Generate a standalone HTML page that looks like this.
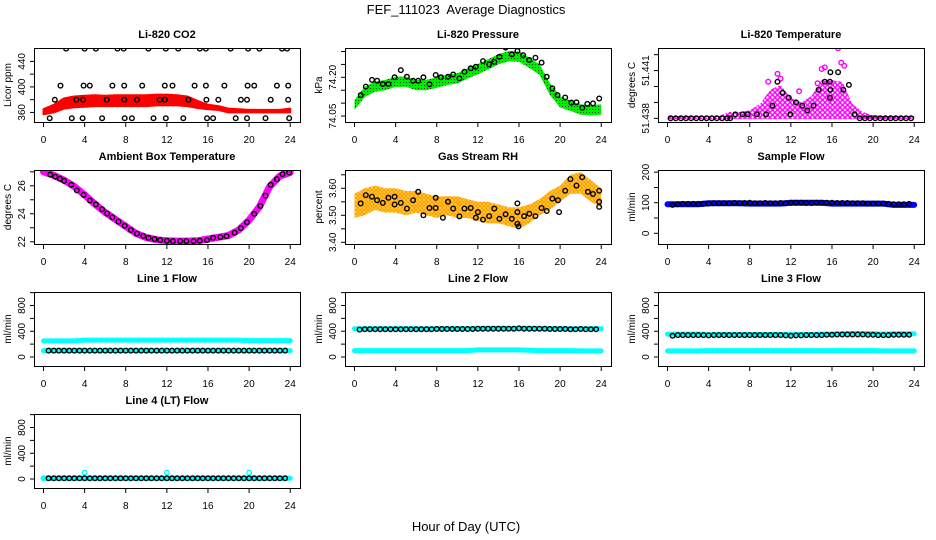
<!DOCTYPE html>
<html><head><meta charset="utf-8"><style>
html,body{margin:0;padding:0;background:#fff;}
svg{display:block;font-family:"Liberation Sans",Arial,sans-serif;}
</style></head><body>
<svg id="chart" width="936" height="540" viewBox="0 0 936 540" xmlns="http://www.w3.org/2000/svg">
<defs>
<pattern id="patGreen" width="3" height="3" patternUnits="userSpaceOnUse"><rect width="3" height="3" fill="#00ee00"/><rect x="1" y="1" width="1" height="1" fill="#004400"/></pattern>
<pattern id="patMag" width="5" height="5" patternUnits="userSpaceOnUse"><rect width="5" height="5" fill="#ffffff"/><circle cx="2.5" cy="2.5" r="1.9" fill="none" stroke="#ff00ff" stroke-width="1.4"/></pattern>
<pattern id="patOrange" width="4" height="4" patternUnits="userSpaceOnUse"><rect width="4" height="4" fill="#ffe040"/><circle cx="2" cy="2" r="1.4" fill="none" stroke="#ff9000" stroke-width="1"/></pattern>
</defs>
<text x="466" y="14" font-size="13" text-anchor="middle">FEF_111023&#160; Average Diagnostics</text>
<text x="466" y="531" font-size="13" text-anchor="middle">Hour of Day (UTC)</text>
</svg>
<script>
// ---------- data ----------
const hours25 = [0,1,2,3,4,5,6,7,8,9,10,11,12,13,14,15,16,17,18,19,20,21,22,23,24];
const halfHours = [0.5,1,1.5,2,2.5,3,3.5,4,4.5,5,5.5,6,6.5,7,7.5,8,8.5,9,9.5,10,10.5,11,11.5,12,12.5,13,13.5,14,14.5,15,15.5,16,16.5,17,17.5,18,18.5,19,19.5,20,20.5,21,21.5,22,22.5,23,23.5];

// CO2
const co2Upper = [365,372,382,385,386,387,386,387,387,387,387,388,388,387,385,378,372,370,366,365,364,364,364,364,366];
const co2Lower = [357,360,366,368,369,370,370,370,370,370,370,371,371,371,370,367,365,364,360,360,360,360,360,360,360];
const co2Hours = [2.2,4.0,5.1,7.2,7.8,10.2,11.9,13.1,15.2,15.8,18.2,19.9,21.0,23.2,23.7,
 1.65,3.9,4.5,6.7,7.85,9.6,11.8,12.55,14.7,15.8,17.6,19.85,20.5,22.7,23.8,
 1.1,3.2,3.85,6.15,7.85,9.1,11.3,11.8,14.1,15.85,17.0,19.2,19.8,22.1,23.8,
 0.6,2.75,3.8,5.7,7.9,8.6,10.7,11.9,13.6,15.9,16.5,18.7,19.8,21.6,23.9];
const co2Values = [460,460,460,460,460,460,460,460,460,460,460,460,460,460,460,
 402,402,402,402,402,402,402,402,402,402,402,402,402,402,402,
 380,380,380,380,380,380,380,380,380,380,380,380,380,380,380,
 351,351,351,351,351,351,351,351,351,351,351,351,351,351,351];

// Pressure
const presUpper = [74.112,74.164,74.184,74.19,74.203,74.203,74.19,74.19,74.2,74.21,74.216,74.235,74.252,74.27,74.29,74.302,74.3,74.276,74.25,74.178,74.127,74.11,74.095,74.093,74.095];
const presLower = [74.074,74.124,74.144,74.15,74.163,74.163,74.15,74.15,74.16,74.17,74.176,74.195,74.212,74.23,74.25,74.262,74.26,74.236,74.21,74.132,74.083,74.07,74.055,74.053,74.055];
const presHours = [0.6,1.1,1.7,2.2,2.75,3.3,3.9,4.5,5.1,5.7,6.2,6.7,7.3,7.9,8.4,9.1,9.6,10.2,10.7,11.3,11.8,12.5,13.1,13.6,14.1,14.7,15.3,15.85,16.4,17.0,17.6,18.2,18.7,19.25,19.75,20.5,21.1,21.6,22.15,22.65,23.2,23.8];
const presValues = [74.131,74.164,74.19,74.187,74.174,74.174,74.2,74.228,74.202,74.187,74.187,74.2,74.173,74.209,74.2,74.202,74.211,74.196,74.222,74.235,74.241,74.263,74.25,74.26,74.28,74.315,74.289,74.302,74.286,74.267,74.276,74.257,74.202,74.157,74.131,74.122,74.102,74.103,74.082,74.097,74.099,74.118];

// Li-820 temperature
const tempUpper = [51.43815,51.43815,51.43815,51.43815,51.43815,51.43815,51.4384,51.4384,51.4385,51.4389,51.4398,51.4401,51.4393,51.4390,51.4394,51.4404,51.4404,51.4403,51.4389,51.4384,51.4382,51.43815,51.43815,51.43815,51.43815];
const tempLower = [51.43795,51.43795,51.43795,51.43795,51.43795,51.43795,51.43795,51.43795,51.43795,51.43795,51.43795,51.43795,51.43795,51.43795,51.43795,51.43795,51.43795,51.43795,51.43795,51.43795,51.43795,51.43795,51.43795,51.43795,51.43795];
const tempOutHours = [15.3,16.6,17.2,15.0,10.7,9.8,11.0,12.8,14.6,16.9];
const tempOutValues = [51.4412,51.4424,51.4413,51.4411,51.4408,51.4403,51.4405,51.4397,51.4402,51.4415];
const tempHours = [0.3,0.8,1.3,1.8,2.3,2.8,3.3,3.8,4.3,4.8,5.3,5.8,6.1,6.6,7.3,7.8,8.7,9.6,10.2,10.7,11.2,11.8,11.95,12.5,13.1,13.6,14.2,14.7,15.3,15.8,15.85,15.85,15.8,16.6,17.1,17.65,18.2,18.7,19.2,19.7,20.2,20.7,21.2,21.7,22.2,22.7,23.2,23.7];
const tempValues = [51.438,51.438,51.438,51.438,51.438,51.438,51.438,51.438,51.438,51.438,51.438,51.438,51.438,51.43825,51.43825,51.43825,51.43825,51.43825,51.4388,51.4403,51.4396,51.4393,51.43825,51.439,51.4388,51.4385,51.4388,51.4398,51.4403,51.4403,51.4409,51.4398,51.4393,51.4409,51.4398,51.4401,51.43825,51.438,51.438,51.438,51.438,51.438,51.438,51.438,51.438,51.438,51.438,51.438];

// Ambient box temperature
const ambBand = [27.0,26.75,26.4,25.95,25.35,24.7,24.1,23.6,23.1,22.6,22.3,22.15,22.07,22.05,22.05,22.07,22.2,22.32,22.45,22.85,23.55,24.5,25.95,26.7,26.95];
const ambHours = [0.65,1.13,1.6,2.0,2.7,3.24,3.9,4.5,5.1,5.7,6.2,6.7,7.3,7.9,8.5,9.1,9.7,10.2,10.8,11.35,12.0,12.6,13.3,13.9,14.6,15.2,15.9,16.5,17.2,17.8,18.6,19.2,19.8,20.5,21.1,21.6,22.1,22.7,23.25,23.9];
const ambValues = [26.8,26.65,26.5,26.35,26.07,25.67,25.35,24.95,24.67,24.33,24.02,23.74,23.44,23.14,22.84,22.58,22.42,22.28,22.19,22.12,22.07,22.05,22.05,22.05,22.05,22.07,22.12,22.28,22.33,22.4,22.65,22.98,23.4,24.0,24.56,25.3,26.07,26.47,26.84,26.95];

// Gas stream RH
const rhUpper = [3.58,3.60,3.61,3.60,3.60,3.59,3.59,3.58,3.57,3.57,3.57,3.56,3.55,3.55,3.54,3.53,3.53,3.54,3.56,3.59,3.61,3.65,3.66,3.63,3.60];
const rhLower = [3.49,3.50,3.52,3.51,3.51,3.50,3.51,3.50,3.49,3.50,3.49,3.49,3.48,3.47,3.47,3.46,3.45,3.47,3.50,3.52,3.55,3.58,3.58,3.55,3.53];
const rhHours = [0.6,1.1,1.7,2.2,2.75,3.3,3.9,3.9,4.5,5.1,5.7,6.2,6.7,7.3,7.9,7.9,8.6,9.1,9.6,10.2,10.7,11.3,11.8,12.0,12.5,13.1,13.6,14.1,14.7,15.3,15.85,15.85,15.85,15.95,16.5,17.0,17.6,18.2,18.7,19.25,19.8,19.9,20.5,21.0,21.6,22.15,22.7,23.2,23.8,23.8,23.8];
const rhValues = [3.544,3.575,3.569,3.556,3.546,3.565,3.569,3.54,3.546,3.525,3.556,3.587,3.50,3.527,3.527,3.565,3.491,3.55,3.525,3.496,3.525,3.527,3.491,3.512,3.484,3.497,3.525,3.487,3.504,3.487,3.469,3.512,3.544,3.459,3.497,3.506,3.497,3.527,3.516,3.562,3.556,3.512,3.591,3.634,3.61,3.641,3.587,3.579,3.591,3.55,3.531];

// Sample flow
const sampleBand = [95,95,95,95,98,98,98,98,97,97,97,97,100,100,100,100,97,97,97,97,97,97,93,93,93];
const sampleBlack = [93,95,96,96,96,96,96,97,98,98,98,98,99,98,99,100,98,98,99,98,98,99,98,100,100,100,99,99,100,100,100,100,99,99,99,98,98,98,97,97,97,97,96,95,95,95,96];

// Line flows
const line1Cyan = [250,250,250,250,262,262,262,262,262,262,262,262,262,262,262,262,262,262,262,262,255,255,255,255,255];
const line1CyanLow = [100,100,100,100,100,100,100,100,100,100,100,100,100,100,100,100,100,100,100,100,100,100,100,100,100];
const line1Black = [100,100,100,100,100,100,100,100,100,100,100,100,100,100,100,100,100,100,100,100,100,100,100,100,100,100,100,100,100,100,100,100,100,100,100,100,100,100,100,100,100,100,100,100,100,100,100];
const line2Cyan = [440,440,440,440,440,440,440,440,440,440,440,440,440,445,445,445,445,445,440,440,440,440,440,440,440];
const line2CyanLow = [100,100,100,100,100,100,100,100,100,100,100,100,110,110,110,110,110,105,100,100,100,100,95,95,95];
const line2Black = [425,432,432,432,432,432,432,430,432,432,432,432,432,432,432,435,435,435,435,435,435,435,435,440,440,440,440,440,440,440,440,445,440,440,440,440,440,435,435,435,435,430,430,435,430,430,430];
const line3Cyan = [355,355,355,355,350,350,350,350,350,350,350,350,350,350,350,355,355,360,365,365,360,355,360,360,360];
const line3CyanLow = [95,95,95,95,100,100,100,100,100,100,100,100,100,100,100,100,100,100,100,100,100,95,95,95,95];
const line3Black = [330,340,340,340,340,340,340,335,340,340,340,340,340,340,340,340,340,340,340,340,340,340,335,330,335,335,340,340,340,340,345,345,350,350,350,350,350,350,345,345,340,340,340,345,345,345,345];
const line4Cyan = [10,10,10,10,10,10,10,10,10,10,10,10,10,10,10,10,10,10,10,10,10,10,10,10,10];
const line4SpikeHours = [4,12,20,0];
const line4SpikeValues = [100,100,100,10];
const line4Black = [10,10,10,10,10,10,10,10,10,10,10,10,10,10,10,10,10,10,10,10,10,10,10,10,10,10,10,10,10,10,10,10,10,10,10,10,10,10,10,10,10,10,10,10,10,10,10];

const xTicks = [0,4,8,12,16,20,24];

// ---------- drawing ----------
const NS = "http://www.w3.org/2000/svg";
const svg = document.getElementById("chart");
const COLS = [34,345,658], ROWS = [48,170,292,414], PW = 266, PH = 74;
let clipId = 0;

function mk(tag, attrs, parent){
  const el = document.createElementNS(NS, tag);
  for (const k in attrs) el.setAttribute(k, attrs[k]);
  parent.appendChild(el);
  return el;
}

function panel(name, col, row, title, ylab, ymin, ymax, ticks, labels, digits){
  const L = COLS[col], T = ROWS[row];
  const g = mk("g", {}, svg);
  
  
  const x = h => L + 9.5 + h * 10.28;
  const y = v => T + PH - (v - ymin) / (ymax - ymin) * PH;
  const cid = "clip" + (clipId++);
  const cp = mk("clipPath", {id: cid}, g);
  mk("rect", {x: L, y: T, width: PW, height: PH}, cp);
  const data = mk("g", {"clip-path": "url(#" + cid + ")"}, g);
  
  
  const box = mk("rect", {x: L+0.5, y: T+0.5, width: PW, height: PH, fill: "none", stroke: "#000", "stroke-width": 1}, g);
  
  
  const tt = mk("text", {x: L + PW/2, y: T - 10, "font-size": 11, "font-weight": "bold", "text-anchor": "middle"}, g);
  tt.textContent = title;
  
  
  xTicks.forEach(h => {
    const tk = mk("line", {x1: x(h), x2: x(h), y1: T+PH+0.5, y2: T+PH+5, stroke: "#000"}, g);
    
    
    const lb = mk("text", {x: x(h), y: T+PH+21, "font-size": 10, "text-anchor": "middle"}, g);
    lb.textContent = h;
    
    
  });
  ticks.forEach(v => {
    const tk = mk("line", {x1: L-4, x2: L+0.5, y1: y(v), y2: y(v), stroke: "#000"}, g);
    
    
  });
  labels.forEach(v => {
    const lb = mk("text", {x: 0, y: 0, "font-size": 10, "text-anchor": "middle", transform: "translate(" + (L-9) + "," + y(v).toFixed(1) + ") rotate(-90)"}, g);
    lb.textContent = v.toFixed(digits);
    
    
  });
  const yl = mk("text", {x: 0, y: 0, "font-size": 10, "text-anchor": "middle", transform: "translate(" + (L-23) + "," + (T+PH/2) + ") rotate(-90)"}, g);
  yl.textContent = ylab;
  
  
  return {x, y, data};
}

function band(p, hs, up, lo, fill, name){
  const pts = hs.map((h,i) => p.x(h).toFixed(1) + "," + p.y(up[i]).toFixed(1))
    .concat(hs.slice().reverse().map((h,j) => { const i = hs.length-1-j; return p.x(h).toFixed(1) + "," + p.y(lo[i]).toFixed(1); }));
  const el = mk("polygon", {points: pts.join(" "), fill: fill, stroke: fill.indexOf("url")===0 ? "none" : fill, "stroke-width": 2, "stroke-linejoin": "round"}, p.data);
  
  
}

function line(p, hs, vs, color, width, name){
  const pts = hs.map((h,i) => p.x(h).toFixed(1) + "," + p.y(vs[i]).toFixed(1));
  const el = mk("polyline", {points: pts.join(" "), fill: "none", stroke: color, "stroke-width": width, "stroke-linecap": "round", "stroke-linejoin": "round"}, p.data);
  
  
}

function circles(p, hs, vs, color, name){
  hs.forEach((h,i) => {
    const c = mk("circle", {cx: p.x(h).toFixed(1), cy: p.y(vs[i]).toFixed(1), r: 2.3, fill: "none", stroke: color, "stroke-width": 1.4}, p.data);
    
    
  });
}

let p = panel("co2", 0, 0, "Li-820 CO2", "Licor ppm", 345, 461, [360,380,400,420,440], [360,400,440], 0);
band(p, hours25, co2Upper, co2Lower, "#ff0000", "co2-raw-band");
circles(p, co2Hours, co2Values, "#000", "co2-average-point");

p = panel("pressure", 1, 0, "Li-820 Pressure", "kPa", 74.027, 74.3136, [74.05,74.10,74.15,74.20,74.25,74.30], [74.05,74.20], 2);
band(p, hours25, presUpper, presLower, "url(#patGreen)", "pressure-raw-band");
circles(p, presHours, presValues, "#000", "pressure-average-point");

p = panel("li820-temp", 2, 0, "Li-820 Temperature", "degrees C", 51.43777, 51.44242, [51.438,51.439,51.440,51.441,51.442], [51.438,51.441], 3);
band(p, hours25, tempUpper, tempLower, "url(#patMag)", "temp-raw-band");
circles(p, tempOutHours, tempOutValues, "#ff00ff", "temp-raw-outlier");
circles(p, tempHours, tempValues, "#000", "temp-average-point");

p = panel("ambient", 0, 1, "Ambient Box Temperature", "degrees C", 21.84, 27.13, [22,23,24,25,26,27], [22,24,26], 0);
line(p, hours25, ambBand, "#ff00ff", 7, "ambient-raw-band");
circles(p, ambHours, ambValues, "#000", "ambient-average-point");

p = panel("rh", 1, 1, "Gas Stream RH", "percent", 3.3937, 3.6678, [3.40,3.45,3.50,3.55,3.60,3.65], [3.40,3.50,3.60], 2);
band(p, hours25, rhUpper, rhLower, "url(#patOrange)", "rh-raw-band");
circles(p, rhHours, rhValues, "#000", "rh-average-point");

p = panel("sample-flow", 2, 1, "Sample Flow", "ml/min", -35, 207, [0,50,100,150,200], [0,100,200], 0);
line(p, hours25, sampleBand, "#0000ff", 6, "sample-flow-raw-band");
circles(p, halfHours, sampleBlack, "#000", "sample-flow-average-point");

const flowTicks = [0,200,400,600,800,1000], flowLabels = [0,400,800];
p = panel("line1", 0, 2, "Line 1 Flow", "ml/min", -140, 1010, flowTicks, flowLabels, 0);
line(p, hours25, line1Cyan, "#00ffff", 5, "line1-raw-high");
line(p, hours25, line1CyanLow, "#00ffff", 5, "line1-raw-low");
circles(p, halfHours, line1Black, "#000", "line1-average-point");

p = panel("line2", 1, 2, "Line 2 Flow", "ml/min", -140, 1010, flowTicks, flowLabels, 0);
line(p, hours25, line2Cyan, "#00ffff", 5, "line2-raw-high");
line(p, hours25, line2CyanLow, "#00ffff", 5, "line2-raw-low");
circles(p, halfHours, line2Black, "#000", "line2-average-point");

p = panel("line3", 2, 2, "Line 3 Flow", "ml/min", -140, 1010, flowTicks, flowLabels, 0);
line(p, hours25, line3Cyan, "#00ffff", 5, "line3-raw-high");
line(p, hours25, line3CyanLow, "#00ffff", 5, "line3-raw-low");
circles(p, halfHours, line3Black, "#000", "line3-average-point");

p = panel("line4", 0, 3, "Line 4 (LT) Flow", "ml/min", -140, 1010, flowTicks, flowLabels, 0);
line(p, hours25, line4Cyan, "#00ffff", 5, "line4-raw");
circles(p, line4SpikeHours, line4SpikeValues, "#00ffff", "line4-raw-spike");
circles(p, halfHours, line4Black, "#000", "line4-average-point");
</script>
</body></html>
